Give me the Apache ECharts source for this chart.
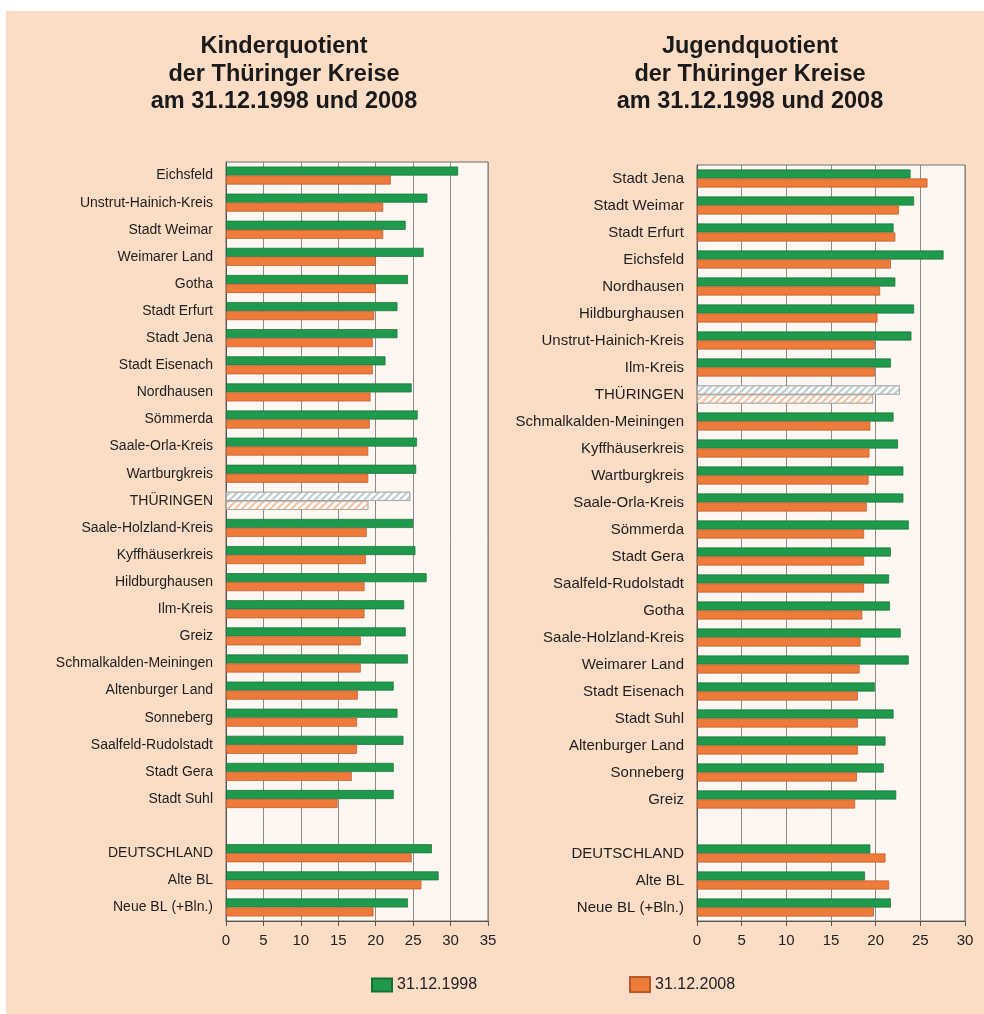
<!DOCTYPE html>
<html>
<head>
<meta charset="utf-8">
<script src="https://cdn.jsdelivr.net/npm/echarts@6/dist/echarts.min.js"></script>
<style>
html,body{margin:0;padding:0;background:#fff;}
#chart{width:984px;height:1014px;}
</style>
</head>
<body>
<div id="chart"></div>
<script>
// ---------- Data ----------
const kinderCategories = ['Eichsfeld','Unstrut-Hainich-Kreis','Stadt Weimar','Weimarer Land','Gotha','Stadt Erfurt','Stadt Jena','Stadt Eisenach','Nordhausen','Sömmerda','Saale-Orla-Kreis','Wartburgkreis','THÜRINGEN','Saale-Holzland-Kreis','Kyffhäuserkreis','Hildburghausen','Ilm-Kreis','Greiz','Schmalkalden-Meiningen','Altenburger Land','Sonneberg','Saalfeld-Rudolstadt','Stadt Gera','Stadt Suhl','','DEUTSCHLAND','Alte BL','Neue BL (+Bln.)'];
const kinder1998 = [31.0,26.9,24.0,26.4,24.3,22.9,22.9,21.3,24.8,25.6,25.5,25.4,24.6,25.0,25.3,26.8,23.8,24.0,24.3,22.4,22.9,23.7,22.4,22.4,null,27.5,28.4,24.3];
const kinder2008 = [22.0,21.0,21.0,20.0,20.0,19.8,19.6,19.6,19.3,19.2,19.0,19.0,19.0,18.8,18.7,18.5,18.5,18.0,18.0,17.6,17.5,17.5,16.8,14.9,null,24.8,26.1,19.7];

const jugendCategories = ['Stadt Jena','Stadt Weimar','Stadt Erfurt','Eichsfeld','Nordhausen','Hildburghausen','Unstrut-Hainich-Kreis','Ilm-Kreis','THÜRINGEN','Schmalkalden-Meiningen','Kyffhäuserkreis','Wartburgkreis','Saale-Orla-Kreis','Sömmerda','Stadt Gera','Saalfeld-Rudolstadt','Gotha','Saale-Holzland-Kreis','Weimarer Land','Stadt Eisenach','Stadt Suhl','Altenburger Land','Sonneberg','Greiz','','DEUTSCHLAND','Alte BL','Neue BL (+Bln.)'];
const jugend1998 = [23.9,24.3,22.0,27.6,22.2,24.3,24.0,21.7,22.7,22.0,22.5,23.1,23.1,23.7,21.7,21.5,21.6,22.8,23.7,19.9,22.0,21.1,20.9,22.3,null,19.4,18.8,21.7];
const jugend2008 = [25.8,22.6,22.2,21.7,20.5,20.2,19.9,19.9,19.7,19.4,19.3,19.2,19.0,18.7,18.7,18.7,18.5,18.3,18.2,18.0,18.0,18.0,17.9,17.7,null,21.1,21.5,19.8];

const kinderTitle = ['Kinderquotient','der Thüringer Kreise','am 31.12.1998 und 2008'];
const jugendTitle = ['Jugendquotient','der Thüringer Kreise','am 31.12.1998 und 2008'];
const seriesNames = ['31.12.1998','31.12.2008'];

// ---------- Styling ----------
const GREEN = '#1f9a4c', GREEN_EDGE = '#166e37';
const ORANGE = '#ef7b3b', ORANGE_EDGE = '#b9582b';
const FONT = 'Liberation Sans, Arial, sans-serif';

function hatched(lineColor){
  return {
    color: '#fdfcf9',
    borderColor: '#9a9a9a',
    borderWidth: 0.6,
    decal: {
      symbol: 'rect',
      symbolSize: 1,
      dashArrayX: [1, 0],
      dashArrayY: [2, 3],
      rotation: -Math.PI / 4,
      color: lineColor
    }
  };
}

function buildData(cats, vals, hatchColor){
  return vals.map((v, i) => cats[i] === 'THÜRINGEN'
    ? { value: v, itemStyle: hatched(hatchColor) }
    : v);
}

const chart = echarts.init(document.getElementById('chart'), null, {renderer: 'canvas'});

function grid(left, right, top, bottom){
  return { left, right, top, bottom, show: true, backgroundColor: '#fef7f1', borderColor: '#6f6f6f', borderWidth: 1 };
}
function xAxis(gridIndex, max){
  return {
    type: 'value', gridIndex, min: 0, max, interval: 5,
    axisLine: { show: true, lineStyle: { color: '#555', width: 1 } },
    axisTick: { show: true, length: 5, lineStyle: { color: '#555' } },
    axisLabel: { color: '#222', fontSize: 15, fontFamily: FONT, margin: 12 },
    splitLine: { show: true, lineStyle: { color: '#8c8c8c', width: 1 } }
  };
}
function yAxis(gridIndex, cats, fs){
  return {
    type: 'category', gridIndex, data: cats, inverse: true,
    axisLine: { show: true, lineStyle: { color: '#555' } },
    axisTick: { show: false },
    axisLabel: { color: '#1e1e1e', fontSize: fs, fontFamily: FONT, margin: 13, interval: 0 },
    splitLine: { show: false }
  };
}
function bars(name, gi, data, color, edge){
  return {
    name, type: 'bar', xAxisIndex: gi, yAxisIndex: gi, data,
    barWidth: 9, barGap: '0%',
    itemStyle: { color, borderColor: edge, borderWidth: 0.7 },
    emphasis: { disabled: true },
    animation: false
  };
}

const titleFont = 'bold 23.5px ' + FONT;

chart.setOption({
  backgroundColor: '#ffffff',
  animation: false,
  graphic: [
    { type: 'rect', z: -10, silent: true, shape: { x: 6, y: 11, width: 978, height: 1003 }, style: { fill: '#fbdcc5' } },
    { type: 'text', z: 10, x: 284, y: 33, style: { text: kinderTitle.join('\n'), font: titleFont, fill: '#1a1a1a', textAlign: 'center', textVerticalAlign: 'top', lineHeight: 27.5 } },
    { type: 'text', z: 10, x: 750, y: 33, style: { text: jugendTitle.join('\n'), font: titleFont, fill: '#1a1a1a', textAlign: 'center', textVerticalAlign: 'top', lineHeight: 27.5 } }
  ],
  legend: [
    { data: [seriesNames[0]], left: 366, top: 972, icon: 'rect', itemWidth: 20, itemHeight: 13, itemGap: 5,
      textStyle: { fontSize: 16, color: '#222', fontFamily: FONT }, selectedMode: false },
    { data: [seriesNames[1]], left: 624, top: 971, icon: 'rect', itemWidth: 20, itemHeight: 15, itemGap: 5,
      textStyle: { fontSize: 16, color: '#222', fontFamily: FONT }, selectedMode: false }
  ],
  grid: [
    grid(226, 984 - 488, 162, 1014 - 921),
    grid(697, 984 - 965, 165, 1014 - 921)
  ],
  xAxis: [ xAxis(0, 35), xAxis(1, 30) ],
  yAxis: [ yAxis(0, kinderCategories, 14), yAxis(1, jugendCategories, 15) ],
  series: [
    bars(seriesNames[0], 0, buildData(kinderCategories, kinder1998, '#b7cbd0'), GREEN, GREEN_EDGE),
    bars(seriesNames[1], 0, buildData(kinderCategories, kinder2008, '#f2bfa0'), ORANGE, ORANGE_EDGE),
    bars(seriesNames[0], 1, buildData(jugendCategories, jugend1998, '#b7cbd0'), GREEN, GREEN_EDGE),
    bars(seriesNames[1], 1, buildData(jugendCategories, jugend2008, '#f2bfa0'), ORANGE, ORANGE_EDGE)
  ]
});
</script>
</body>
</html>
